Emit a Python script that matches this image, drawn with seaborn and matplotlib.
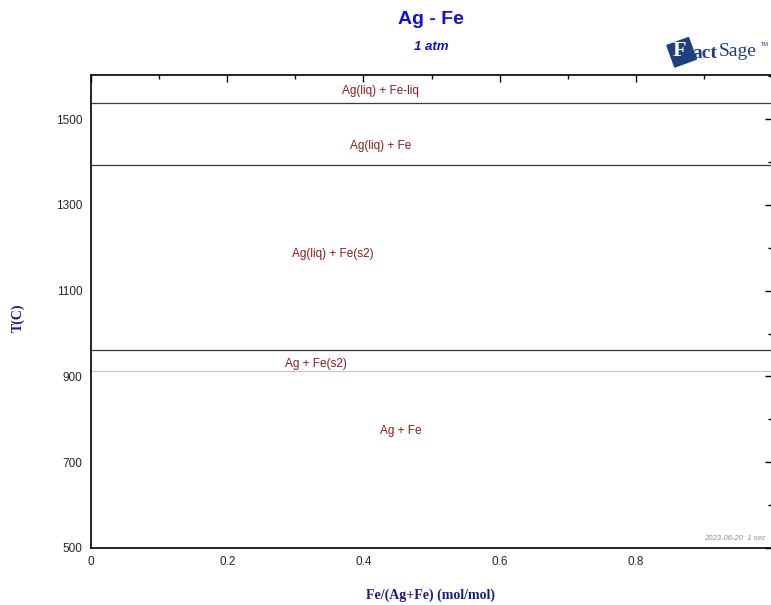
import matplotlib
matplotlib.use("Agg")
import matplotlib.pyplot as plt
import seaborn as sns
import pandas as pd
from matplotlib.ticker import MultipleLocator
from matplotlib.patches import Rectangle
import matplotlib.transforms as mtransforms

# Data
line_temps = [1538, 1394, 962, 912]
line_colors = ["#3a3a3a", "#3a3a3a", "#3a3a3a", "#c8c8c8"]
x_span = [0.0, 1.0]
region_labels = ["Ag(liq) + Fe-liq", "Ag(liq) + Fe", "Ag(liq) + Fe(s2)", "Ag + Fe(s2)", "Ag + Fe"]
label_x = [0.425, 0.425, 0.355, 0.33, 0.455]
label_t = [1566, 1438, 1185, 930, 773]

sns.set_style("white")
plt.rcParams['font.family'] = ['Liberation Sans', 'DejaVu Sans']

fig = plt.figure(figsize=(7.71, 6.05), dpi=100)
ax = fig.add_axes([91/771, 1-548/605, 681/771, (548-75)/605])

rows = []
for i, t in enumerate(line_temps):
    for x in x_span:
        rows.append({"x": x, "T": t, "line": i})
df = pd.DataFrame(rows)
for i, t in enumerate(line_temps):
    sns.lineplot(data=df[df["line"] == i], x="x", y="T", ax=ax,
                 color=line_colors[i], linewidth=0.9, legend=False)

for lab, x, t in zip(region_labels, label_x, label_t):
    ax.text(x, t, lab, color="#8b1a1a", fontsize=8.5, ha="center", va="center")

ax.set_xlim(0, 1)
ax.set_ylim(500, 1603)
ax.xaxis.set_minor_locator(MultipleLocator(0.1))
ax.yaxis.set_minor_locator(MultipleLocator(100))
ax.set_xticks([0, 0.2, 0.4, 0.6, 0.8])
ax.set_xticklabels(["0", "0.2", "0.4", "0.6", "0.8"])
ax.set_yticks([500, 700, 900, 1100, 1300, 1500])
ax.tick_params(which="both", direction="in", top=True, right=True, labelsize=8.5, color="black", pad=6)
ax.tick_params(which="major", length=5, width=1)
ax.tick_params(which="minor", length=3, width=1)
for s in ax.spines.values():
    s.set_color("black")
    s.set_linewidth(1.2)
ax.set_xlabel("")
ax.set_ylabel("")

fig.text(431/771, 1-19/605, "Ag - Fe", color="#1010e0", fontsize=14, fontweight="bold", ha="center", va="center")
fig.text(431/771, 1-47/605, "1 atm", color="#1010e0", fontsize=9.5, fontweight="bold", style="italic", ha="center", va="center")
fig.text(18/771, 1-318/605, "T(C)", color="#1a1a8c", fontsize=10, fontweight="bold", rotation=90,
         ha="center", va="center", family=["Liberation Serif", "DejaVu Serif"])
fig.text(431/771, 1-595/605, "Fe/(Ag+Fe) (mol/mol)", color="#1a1a8c", fontsize=10, fontweight="bold",
         ha="center", va="center", family=["Liberation Serif", "DejaVu Serif"])
fig.text(735/771, 1-539/605, "2023-06-20  1 sec", color="#909090", fontsize=5.5, style="italic",
         ha="center", va="center")

# FactSage logo
sq = Rectangle((670, 605-64), 23, 23, color="#1f3f7f", zorder=1,
               transform=mtransforms.Affine2D().rotate_deg_around(681, 605-52, 20))
fig.patches.append(sq)
fig.text(673/771, 1-51/605, "F", color="white", fontsize=16, fontweight="bold", ha="left", va="center", zorder=3,
         family=["Liberation Serif", "DejaVu Serif"])
fig.text(692/771, 1-53/605, "act", color="#1f3f7f", fontsize=14, fontweight="bold", ha="left", va="center",
         family=["Liberation Serif", "DejaVu Serif"])
fig.text(719/771, 1-52/605, "Sage", color="#1f3f7f", fontsize=14, ha="left", va="center",
         family=["Liberation Serif", "DejaVu Serif"])
fig.text(761/771, 1-44/605, "TM", color="#1f3f7f", fontsize=4, ha="left", va="center")

fig.savefig("out.png", dpi=100)
